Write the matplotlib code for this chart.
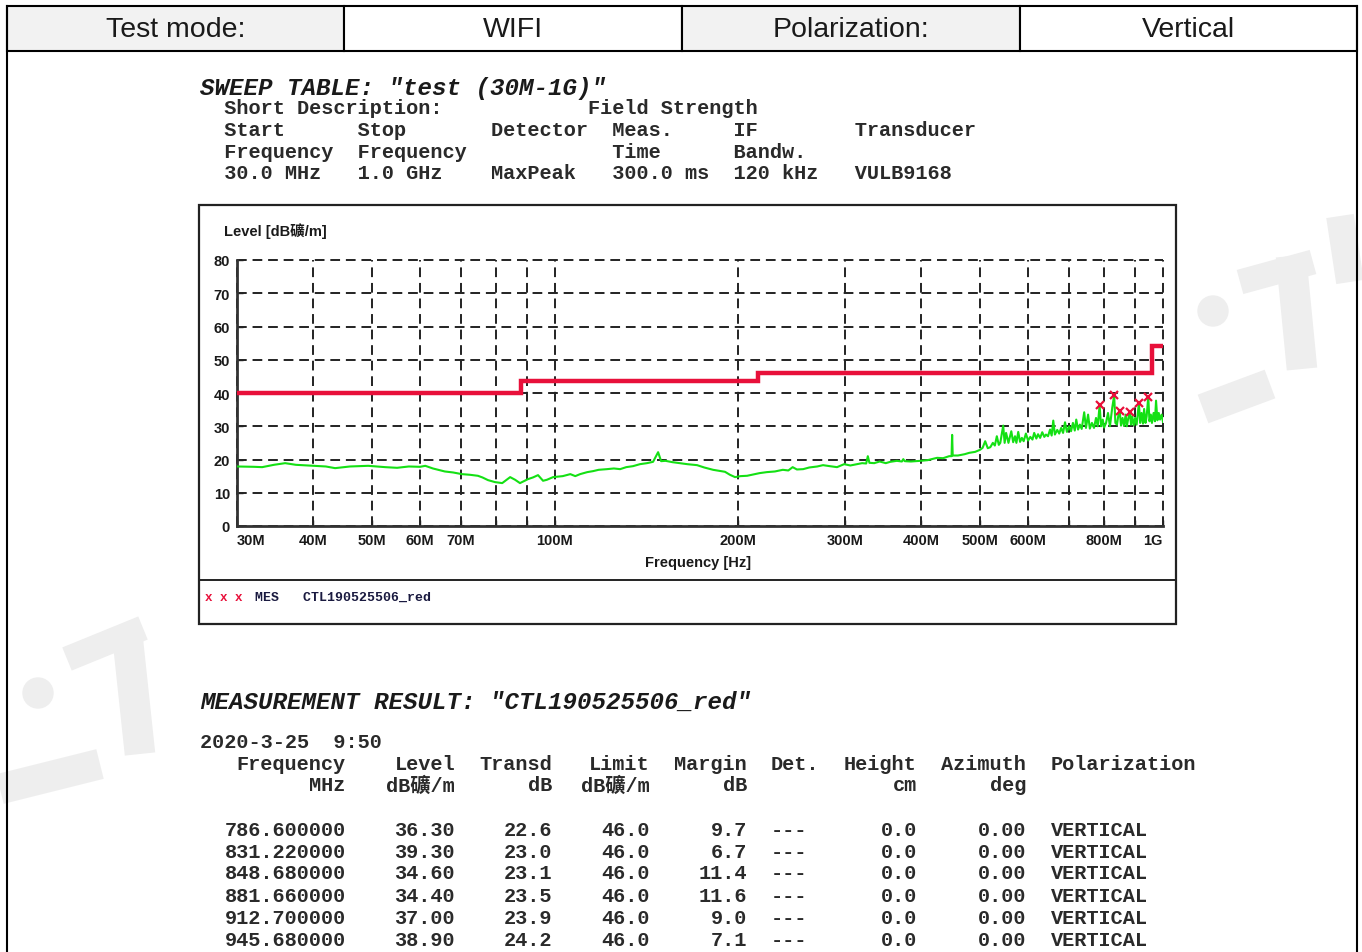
import matplotlib.pyplot as plt
from matplotlib.patches import Rectangle, Circle

W, H = 1362, 953

# header row of the report
header_cells = ['Test mode:', 'WIFI', 'Polarization:', 'Vertical']

# limit line, MHz / dBuV/m
limit_edges = [30, 88, 216, 960, 1000]
limit_levels = [40, 43.5, 46, 54]

# MaxPeak trace, MHz / dBuV/m
trace_freq = [30, 32, 33, 34.5, 36, 37.5, 40, 42, 43.5, 46, 49.3, 52.6, 55, 57.5, 60, 61.2,
              63, 65.9, 68, 70.3, 72.5, 74.7, 76, 77.6, 79.7, 81.9, 83, 84.4, 86, 87.6, 90.3,
              92, 93.8, 95.6, 97, 99.3, 103, 106, 108, 110, 113, 115.5, 118, 121.8, 125, 128,
              131, 134.4, 138, 141.7, 145, 147.8, 149.5, 152, 156, 160.6, 165, 171.3, 176, 182,
              186, 190.4, 194, 197.8, 202, 207, 212, 217, 223, 230, 237, 242, 246, 250, 256,
              262, 270, 276, 283, 291, 299, 306, 314, 320, 325, 327, 329, 335, 342, 350, 356,
              365, 372, 374, 376, 385, 399, 410, 425, 435, 445, 449, 450, 451, 460, 472, 480,
              491, 500, 505, 510, 515, 520, 525, 529, 533, 537, 540, 546, 549, 552, 557, 563,
              567, 571, 574, 578, 582, 586, 590, 595, 600, 605, 610, 614, 619, 623, 628, 633,
              638, 642, 647, 652, 656, 660, 664, 670, 675, 680, 685, 690, 695, 701, 706, 711,
              716, 720, 725, 730, 735, 742, 747, 753, 758, 764, 770, 776, 781, 786.6, 791, 796,
              800, 806, 812, 818, 825, 831.2, 835, 840, 844, 848.7, 853, 858, 863, 868, 872,
              876, 881.7, 886, 890, 895, 900, 905, 912.7, 917, 922, 927, 931, 936, 940, 945.7,
              950, 955, 959, 965, 970, 974, 979, 984, 989, 995, 1000]
trace_level = [17.9, 17.8, 17.7, 18.4, 18.9, 18.4, 18.1, 17.9, 17.4, 17.9, 18.1, 17.7, 17.5,
               17.9, 17.8, 18.1, 17.3, 16.4, 16.1, 15.6, 15.4, 15.1, 14.6, 13.8, 13.2, 12.9,
               13.7, 14.7, 13.9, 12.9, 14.1, 14.6, 15.3, 13.6, 13.9, 14.7, 15.0, 15.6, 15.0,
               15.6, 16.2, 16.5, 16.9, 17.1, 17.3, 17.1, 17.7, 18.0, 18.6, 18.9, 19.3, 22.2,
               19.5, 19.6, 19.2, 18.9, 18.6, 18.3, 17.6, 16.9, 16.6, 16.3, 15.4, 14.7, 15.0,
               15.1, 15.5, 15.9, 16.2, 16.4, 16.9, 16.7, 17.7, 17.0, 17.1, 17.6, 17.9, 18.3,
               18.0, 17.7, 18.6, 18.2, 18.6, 18.9, 18.8, 21.0, 19.0, 18.9, 19.4, 18.9, 19.3,
               19.6, 19.4, 20.1, 19.5, 19.4, 19.6, 19.8, 20.5, 20.4, 21.0, 21.0, 27.4, 21.2,
               21.2, 21.6, 22.0, 22.3, 22.9, 23.5, 25.5, 23.4, 23.7, 25.0, 24.2, 27.0, 24.4,
               25.0, 30.2, 25.0, 28.0, 25.0, 28.5, 25.2, 27.0, 25.0, 28.3, 25.3, 26.5, 25.5,
               27.8, 25.7, 26.8, 26.0, 28.0, 26.3, 27.6, 26.5, 28.2, 26.8, 27.5, 27.0, 29.0,
               27.2, 31.7, 27.5, 28.9, 27.8, 29.5, 28.0, 31.2, 28.3, 30.0, 28.5, 31.0, 28.7,
               32.0, 29.0, 30.5, 29.2, 34.2, 29.5, 33.5, 29.3, 31.0, 29.5, 32.5, 30.0, 36.3,
               30.0, 32.0, 29.6, 31.0, 34.0, 30.0, 35.5, 39.3, 31.0, 30.5, 33.0, 34.6, 30.2,
               32.5, 30.1, 33.5, 30.0, 32.0, 34.4, 30.5, 33.0, 30.3, 32.5, 30.5, 37.0, 31.0,
               34.0, 30.8, 35.2, 31.0, 33.0, 38.9, 31.5, 33.5, 31.0, 34.0, 31.5, 37.7, 31.8,
               34.0, 32.0, 33.5, 31.3]

# measurement result table
meas_freq = [786.6, 831.22, 848.68, 881.66, 912.7, 945.68]
meas_level = [36.30, 39.30, 34.60, 34.40, 37.00, 38.90]
meas_transd = [22.6, 23.0, 23.1, 23.5, 23.9, 24.2]
meas_limit = [46.0, 46.0, 46.0, 46.0, 46.0, 46.0]
meas_margin = [9.7, 6.7, 11.4, 11.6, 9.0, 7.1]
meas_height = [0.0, 0.0, 0.0, 0.0, 0.0, 0.0]
meas_azimuth = [0.00, 0.00, 0.00, 0.00, 0.00, 0.00]
meas_pol = ['VERTICAL'] * 6

x_ticks = [30, 40, 50, 60, 70, 80, 90, 100, 200, 300, 400, 500, 600, 700, 800, 900, 1000]
x_labels = ['30M', '40M', '50M', '60M', '70M', '', '', '100M', '200M', '300M', '400M',
            '500M', '600M', '', '800M', '', '1G']
y_ticks = [0, 10, 20, 30, 40, 50, 60, 70, 80]

# "dBµV/m" as it shows up in the report (cp1252 bytes read as GBK)
unit = 'dB' + b'\xb5V'.decode('gbk') + '/m'

MONO = ['Liberation Mono', 'Noto Sans CJK SC']
SANS = ['Liberation Sans', 'Noto Sans CJK SC']
INK = '#1a1a1a'
MARK = '#eeeeee'

fig = plt.figure(figsize=(W / 100, H / 100), dpi=100)
page = fig.add_axes([0, 0, 1, 1])
page.set_xlim(0, W)
page.set_ylim(H, 0)
page.axis('off')

# faint logo watermark (dot + bars), left-bottom and right-top
page.add_patch(Circle((38, 694), 15, color=MARK, zorder=0))
page.plot([67, 143], [660, 629], color=MARK, lw=18, solid_capstyle='butt', zorder=0)
page.plot([127, 140], [633, 755], color=MARK, lw=22, solid_capstyle='butt', zorder=0)
page.plot([0, 100], [790, 765], color=MARK, lw=22, solid_capstyle='butt', zorder=0)
page.add_patch(Circle((1213, 312), 15, color=MARK, zorder=0))
page.plot([1240, 1313], [283, 263], color=MARK, lw=18, solid_capstyle='butt', zorder=0)
page.plot([1291, 1302], [257, 370], color=MARK, lw=22, solid_capstyle='butt', zorder=0)
page.plot([1203, 1270], [410, 385], color=MARK, lw=22, solid_capstyle='butt', zorder=0)
page.plot([1340, 1350], [217, 283], color=MARK, lw=20, solid_capstyle='butt', zorder=0)

# header table
edges = [7, 344, 682, 1020, 1357]
fills = ['#f2f2f2', 'white', '#f2f2f2', 'white']
for i, txt in enumerate(header_cells):
    page.add_patch(Rectangle((edges[i], 7), edges[i + 1] - edges[i], 45,
                             facecolor=fills[i], edgecolor='black', lw=1.5, zorder=2))
    page.text((edges[i] + edges[i + 1]) / 2, 30, txt, ha='center', va='center',
              fontsize=20.5, family=SANS, color=INK, zorder=3)
page.plot([7, 7], [7, H], color='black', lw=1.5, zorder=3)
page.plot([1357, 1357], [7, H], color='black', lw=1.5, zorder=3)

# sweep table block
cw = 12.15
fs_mono = cw / 0.6 * 0.72
page.text(200, 88, 'SWEEP TABLE: "test (30M-1G)"', family=MONO, fontsize=17.4,
          weight='bold', style='italic', va='center', color=INK)
sweep_lines = [
    '  Short Description:            Field Strength',
    '  Start      Stop       Detector  Meas.     IF        Transducer',
    '  Frequency  Frequency            Time      Bandw.',
    '  30.0 MHz   1.0 GHz    MaxPeak   300.0 ms  120 kHz   VULB9168',
]
for k, line in enumerate(sweep_lines):
    page.text(200, 109 + k * 21.5, line, family=MONO, fontsize=fs_mono, va='center',
              weight='bold', color='#2a2a2a')

# chart frame and legend
page.add_patch(Rectangle((199, 206), 977, 419, facecolor='white', edgecolor='#222222',
                         lw=1.6, zorder=1))
page.plot([199, 1176], [581, 581], color='#222222', lw=1.4, zorder=2)
page.text(205, 598, 'x x x', family=MONO, fontsize=9, weight='bold', color='#e8103a',
          va='center')
page.text(255, 598, 'MES   CTL190525506_red', family=MONO, fontsize=9.5, weight='bold',
          color='#1a1a40', va='center')
page.text(224, 231, 'Level [' + unit + ']', family=SANS, fontsize=10.5, weight='bold',
          color=INK, va='center')
page.text(698, 563, 'Frequency [Hz]', family=SANS, fontsize=10.5, weight='bold',
          color=INK, ha='center', va='center')

ax = fig.add_axes([237 / W, 1 - 527 / H, (1163 - 237) / W, (527 - 261) / H])
ax.patch.set_alpha(0)
ax.set_xscale('log')
ax.set_xlim(30, 1000)
ax.set_ylim(0, 80)
ax.set_xticks(x_ticks)
ax.set_xticklabels(x_labels)
ax.xaxis.set_minor_locator(plt.NullLocator())
ax.set_yticks(y_ticks)
ax.tick_params(axis='both', direction='in', length=4, width=1, colors='#222222',
               labelsize=10.5, pad=5)
for lbl in ax.get_xticklabels() + ax.get_yticklabels():
    lbl.set_fontweight('bold')
    lbl.set_family(SANS)
    lbl.set_color(INK)
ax.get_xticklabels()[0].set_ha('left')
ax.get_xticklabels()[-1].set_ha('right')
ax.grid(True, color='#222222', linestyle=(0, (5, 3)), linewidth=1.4)
for gl in ax.get_xgridlines() + ax.get_ygridlines():
    gl.set_clip_on(False)
for side in ['top', 'right']:
    ax.spines[side].set_visible(False)
for side in ['left', 'bottom']:
    ax.spines[side].set_linewidth(2)
    ax.spines[side].set_color('#333333')

ax.plot(trace_freq, trace_level, color='#14e014', lw=1.5, zorder=3)
ax.stairs(limit_levels, limit_edges, color='#e8103a', lw=3.2, baseline=None, zorder=4)
ax.plot(meas_freq, meas_level, linestyle='none', marker='x', color='#e8103a',
        markersize=6, markeredgewidth=1.6, zorder=5)

# measurement result block
page.text(200, 702, 'MEASUREMENT RESULT: "CTL190525506_red"', family=MONO, fontsize=17.4,
          weight='bold', style='italic', va='center', color=INK)
page.text(200, 743, '2020-3-25  9:50', family=MONO, fontsize=fs_mono, va='center',
          weight='bold', color='#2a2a2a')

x0 = 200
right = {k: x0 + (c + 1) * cw for k, c in
         [('f', 11), ('l', 20), ('t', 28), ('li', 36), ('m', 44), ('h', 58), ('a', 67)]}
det_x = x0 + 47 * cw
pol_x = x0 + 70 * cw


def cell(x, y, s, ha='right'):
    page.text(x, y, s, family=MONO, fontsize=fs_mono, va='center', ha=ha,
              weight='bold', color='#2a2a2a')


cell(right['f'], 765, 'Frequency')
cell(right['l'], 765, 'Level')
cell(right['t'], 765, 'Transd')
cell(right['li'], 765, 'Limit')
cell(right['m'], 765, 'Margin')
cell(det_x, 765, 'Det.', 'left')
cell(right['h'], 765, 'Height')
cell(right['a'], 765, 'Azimuth')
cell(pol_x, 765, 'Polarization', 'left')
cell(right['f'], 786, 'MHz')
cell(right['l'], 786, unit)
cell(right['t'], 786, 'dB')
cell(right['li'], 786, unit)
cell(right['m'], 786, 'dB')
cell(right['h'], 786, 'cm')
cell(right['a'], 786, 'deg')

row_y = [831, 853, 874, 897, 919, 941]
for i, y in enumerate(row_y):
    cell(right['f'], y, f'{meas_freq[i]:.6f}')
    cell(right['l'], y, f'{meas_level[i]:.2f}')
    cell(right['t'], y, f'{meas_transd[i]:.1f}')
    cell(right['li'], y, f'{meas_limit[i]:.1f}')
    cell(right['m'], y, f'{meas_margin[i]:.1f}')
    cell(det_x, y, '---', 'left')
    cell(right['h'], y, f'{meas_height[i]:.1f}')
    cell(right['a'], y, f'{meas_azimuth[i]:.2f}')
    cell(pol_x, y, meas_pol[i], 'left')

fig.savefig('out.png', dpi=100)
